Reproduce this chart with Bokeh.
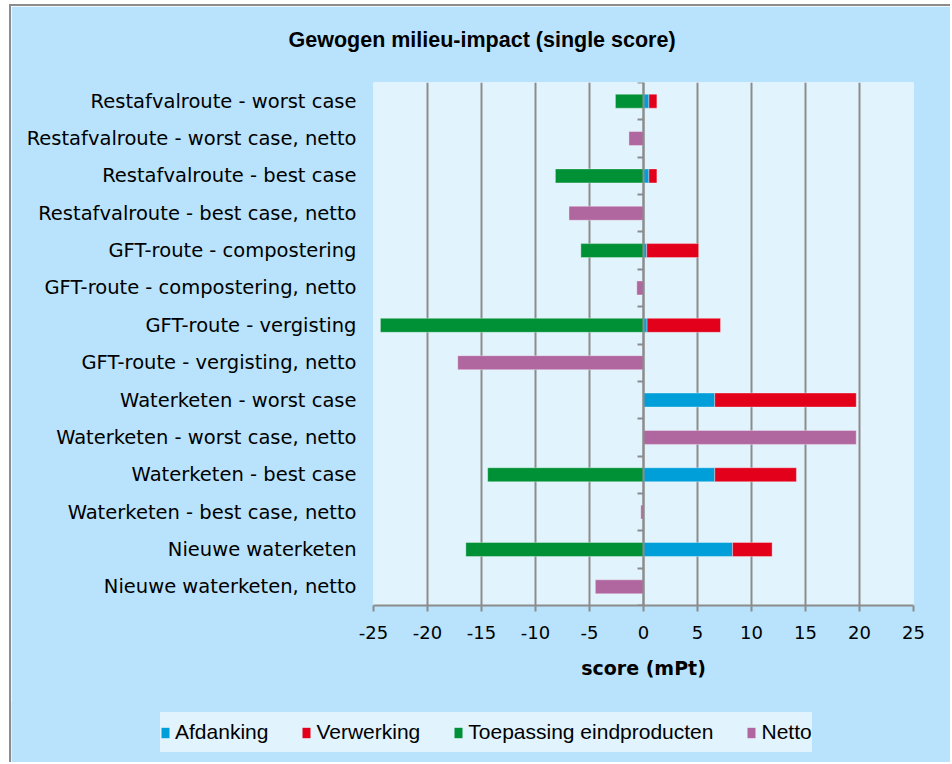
import numpy as np
from bokeh.plotting import figure
from bokeh.models import (ColumnDataSource, Range1d, FixedTicker, LinearAxis, Legend,
                          LegendItem, Title)
from bokeh.embed import file_html
from bokeh.resources import INLINE

categories = [
    "Restafvalroute - worst case",
    "Restafvalroute - worst case, netto",
    "Restafvalroute - best case",
    "Restafvalroute - best case, netto",
    "GFT-route - compostering",
    "GFT-route - compostering, netto",
    "GFT-route - vergisting",
    "GFT-route - vergisting, netto",
    "Waterketen - worst case",
    "Waterketen - worst case, netto",
    "Waterketen - best case",
    "Waterketen - best case, netto",
    "Nieuwe waterketen",
    "Nieuwe waterketen, netto",
]
nan = float("nan")
afdanking = [0.5, nan, 0.5, nan, 0.3, nan, 0.33, nan, 6.6, nan, 6.6, nan, 8.25, nan]
verwerking = [0.74, nan, 0.74, nan, 4.8, nan, 6.8, nan, 13.1, nan, 7.56, nan, 3.66, nan]
toepassing = [-2.6, nan, -8.16, nan, -5.8, nan, -24.36, nan, nan, nan, -14.43, nan, -16.45, nan]
netto = [nan, -1.35, nan, -6.9, nan, -0.62, nan, -17.2, nan, 19.7, nan, -0.25, nan, -4.46]
x_ticks = [-25, -20, -15, -10, -5, 0, 5, 10, 15, 20, 25]
x_tick_labels = ["-25", "-20", "-15", "-10", "-5", "0", "5", "10", "15", "20", "25"]

series_names = ["Afdanking", "Verwerking", "Toepassing eindproducten", "Netto"]
colors = ["#009FDA", "#E3001B", "#009036", "#B0679F"]

ypos = np.arange(len(categories)) + 0.5
afd = np.array(afdanking)
ver = np.array(verwerking)
src = ColumnDataSource(dict(
    y=ypos,
    afd_l=np.zeros(len(categories)), afd_r=afd,
    ver_l=np.nan_to_num(afd), ver_r=np.nan_to_num(afd) + ver,
    toe_l=np.zeros(len(categories)), toe_r=np.array(toepassing),
    net_l=np.zeros(len(categories)), net_r=np.array(netto),
))

OUTER = "#B9E3FC"
INNER = "#E1F3FD"
GRID = "#8C8C8C"
W = 941


def add_bars(fig, **extra):
    kw = dict(height=0.375, line_color="white", line_alpha=0.35, line_width=1, source=src)
    kw.update(extra)
    return [
        fig.hbar(y="y", left="afd_l", right="afd_r", fill_color=colors[0], **kw),
        fig.hbar(y="y", left="ver_l", right="ver_r", fill_color=colors[1], **kw),
        fig.hbar(y="y", left="toe_l", right="toe_r", fill_color=colors[2], **kw),
        fig.hbar(y="y", left="net_l", right="net_r", fill_color=colors[3], **kw),
    ]


p = figure(width=W, height=700, output_backend="svg", toolbar_location=None,
           x_range=Range1d(-25, 25), y_range=Range1d(len(categories), 0),
           min_border_left=362, min_border_right=39, min_border_top=76,
           min_border_bottom=101, y_axis_location=None, x_axis_location=None)
p.background_fill_color = INNER
p.border_fill_color = OUTER
p.outline_line_color = None
p.styles = {"margin-left": "9px", "margin-top": "4px",
            "border-top": "2px solid #8C8C8C", "border-left": "2px solid #8C8C8C"}

spacer = Title(text=" ", standoff=23, text_font_size="1px")
p.add_layout(spacer, "above")
title = Title(text="Gewogen milieu-impact (single score)", align="left", offset=-85,
              standoff=10, text_font="Liberation Sans", text_font_size="21.5px",
              text_font_style="bold", text_color="black")
p.add_layout(title, "above")

# grid
p.xgrid.ticker = FixedTicker(ticks=x_ticks)
p.xgrid.grid_line_color = GRID
p.xgrid.grid_line_width = 2
p.ygrid.grid_line_color = None

add_bars(p)

# x axis
xaxis = LinearAxis(ticker=FixedTicker(ticks=x_ticks), axis_label="score (mPt)")
xaxis.major_label_overrides = {float(t): s for t, s in zip(x_ticks, x_tick_labels)}
xaxis.axis_line_color = GRID
xaxis.axis_line_width = 2
xaxis.major_tick_line_color = GRID
xaxis.major_tick_line_width = 2
xaxis.major_tick_out = 6
xaxis.major_tick_in = 0
xaxis.minor_tick_line_color = None
xaxis.major_label_standoff = 14
xaxis.major_label_text_font = "DejaVu Sans"
xaxis.major_label_text_font_size = "18px"
xaxis.major_label_text_color = "black"
xaxis.axis_label_text_font = "DejaVu Sans"
xaxis.axis_label_text_font_size = "19px"
xaxis.axis_label_text_font_style = "bold"
xaxis.axis_label_text_color = "black"
xaxis.axis_label_standoff = 15
p.add_layout(xaxis, "below")

# category label axis
yaxis = LinearAxis(ticker=FixedTicker(ticks=list(ypos)))
yaxis.major_label_overrides = {float(v): c for v, c in zip(ypos, categories)}
yaxis.axis_line_color = None
yaxis.major_tick_line_color = None
yaxis.minor_tick_line_color = None
yaxis.major_tick_out = 0
yaxis.major_tick_in = 0
yaxis.major_label_standoff = 17
yaxis.major_label_text_font = "DejaVu Sans"
yaxis.major_label_text_font_size = "19.5px"
yaxis.major_label_text_color = "black"
p.add_layout(yaxis, "left")

# zero axis with category separators
zaxis = LinearAxis(ticker=FixedTicker(ticks=list(range(len(categories) + 1))), fixed_location=0)
zaxis.axis_line_color = GRID
zaxis.axis_line_width = 2
zaxis.major_tick_line_color = GRID
zaxis.major_tick_line_width = 2
zaxis.major_tick_in = 6
zaxis.major_tick_out = 0
zaxis.minor_tick_line_color = None
zaxis.major_label_text_font_size = "0px"
zaxis.major_label_text_color = None
p.add_layout(zaxis, "right")

# legend strip below the chart (same series, bars themselves hidden)
lg = figure(width=W, height=60, output_backend="svg", toolbar_location=None,
            x_range=Range1d(-25, 25), y_range=Range1d(len(categories), 0), min_border=0,
            x_axis_location=None, y_axis_location=None)
lg.background_fill_color = OUTER
lg.border_fill_color = OUTER
lg.outline_line_color = None
lg.xgrid.grid_line_color = None
lg.ygrid.grid_line_color = None
lg.styles = {"margin-left": "9px", "margin-top": "-2px", "border-left": "2px solid #8C8C8C"}
swatches = add_bars(lg, visible=False, line_color=None)
legend = Legend(items=[LegendItem(label=n, renderers=[r]) for n, r in zip(series_names, swatches)],
                orientation="horizontal", location=(149, 10),
                background_fill_color=INNER, background_fill_alpha=1,
                border_line_color=None, padding=0, spacing=33, margin=0,
                glyph_width=10, glyph_height=13, label_standoff=5,
                label_text_font="Liberation Sans", label_text_font_size="21px",
                label_text_color="black", label_height=40)
lg.add_layout(legend, "center")

open("out.html", "w").write(file_html([p, lg], INLINE))
